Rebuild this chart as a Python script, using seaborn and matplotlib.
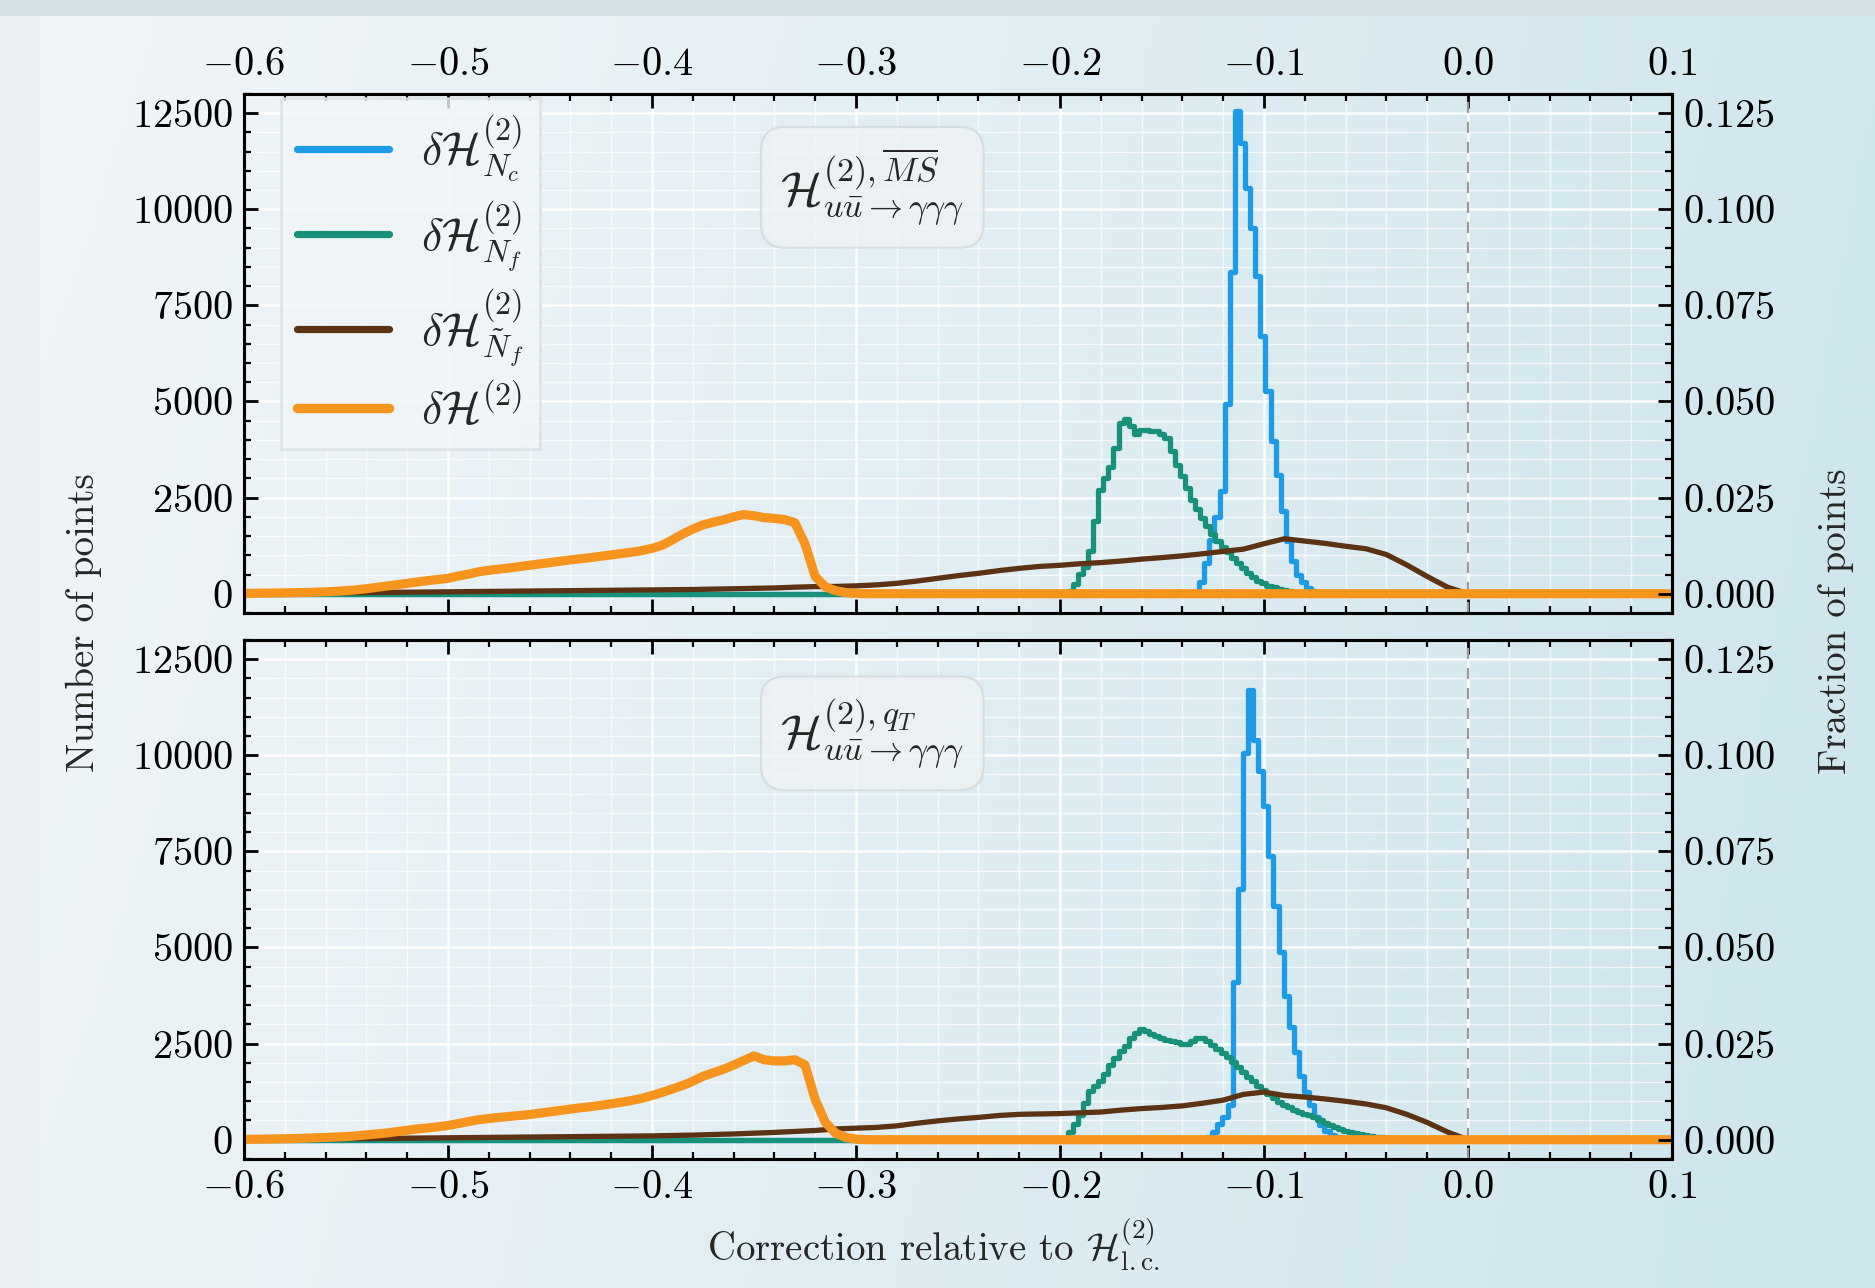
import numpy as np
import pandas as pd
import seaborn as sns
import matplotlib.pyplot as plt
from matplotlib.ticker import MultipleLocator, FuncFormatter
from matplotlib.patches import Rectangle

TOTAL_POINTS = 100000
X_MIN, X_MAX = -0.6, 0.1

labels = [r'$\delta\mathcal{H}^{(2)}_{N_c}$', r'$\delta\mathcal{H}^{(2)}_{N_f}$',
          r'$\delta\mathcal{H}^{(2)}_{\tilde{N}_f}$', r'$\delta\mathcal{H}^{(2)}$']
colors = ['#1e9be6', '#17917a', '#5c3212', '#f7941d']
panel_titles = [r'$\mathcal{H}^{(2),\overline{MS}}_{u\bar{u}\to\gamma\gamma\gamma}$',
                r'$\mathcal{H}^{(2),q_T}_{u\bar{u}\to\gamma\gamma\gamma}$']

# ---- MS-bar scheme (top panel) ----
ms_nc_start, ms_nc_step = -0.1330, 0.0025
ms_nc = [0, 300, 800, 1400, 2000, 2660, 4930, 8380, 12550, 11720, 10540, 9500, 8270,
         6710, 5270, 3970, 3100, 2140, 1360, 840, 500, 300, 150, 60, 0]

ms_nf_start, ms_nf_step = -0.2000, 0.0025
ms_nf = [0, 20, 80, 250, 520, 700, 1100, 1900, 2700, 3000, 3300, 3800, 4450, 4540, 4350,
         4150, 4250, 4250, 4230, 4220, 4150, 4050, 3700, 3350, 3050, 2750, 2450, 2200,
         1980, 1770, 1550, 1380, 1220, 1080, 930, 800, 660, 540, 430, 340, 270, 210, 170,
         130, 100, 75, 50, 30, 15, 0]

ms_nft_start, ms_nft_step = -0.60, 0.01
ms_nft = [0, 5, 10, 15, 20, 25, 30, 35, 40, 45, 50, 55, 60, 65, 70, 75, 80, 85, 90, 95,
          100, 105, 110, 120, 130, 140, 150, 170, 185, 190, 205, 230, 270, 330, 400, 470,
          530, 600, 660, 710, 740, 780, 810, 850, 900, 940, 985, 1040, 1100, 1160, 1300,
          1430, 1370, 1310, 1235, 1170, 1020, 750, 450, 170, 0]

ms_tot_start, ms_tot_step = -0.600, 0.005
ms_tot = [10, 12, 15, 18, 22, 27, 33, 40, 50, 62, 80, 100, 130, 165, 200, 235, 270, 305,
          340, 370, 400, 460, 510, 570, 610, 640, 670, 705, 740, 775, 810, 845, 880, 910,
          940, 975, 1010, 1045, 1080, 1120, 1180, 1260, 1400, 1550, 1680, 1790, 1860,
          1920, 2000, 2060, 2030, 1980, 1960, 1930, 1850, 1300, 450, 180, 80, 30, 10, 0]

# ---- q_T scheme (bottom panel) ----
qt_nc_start, qt_nc_step = -0.1291, 0.0025
qt_nc = [0, 80, 200, 400, 600, 900, 4100, 6510, 10060, 11700, 10400, 9580, 8670, 7370,
         6080, 4870, 3740, 2930, 2280, 1670, 1240, 890, 600, 380, 230, 130, 60, 0]

qt_nf_start, qt_nf_step = -0.2000, 0.0025
qt_nf = [0, 50, 200, 420, 650, 950, 1260, 1400, 1520, 1720, 1950, 2120, 2300, 2450, 2640,
         2780, 2880, 2820, 2760, 2700, 2640, 2600, 2570, 2530, 2500, 2490, 2560, 2640,
         2650, 2580, 2460, 2360, 2260, 2160, 2020, 1880, 1760, 1640, 1520, 1400, 1290,
         1180, 1080, 990, 900, 840, 780, 730, 680, 630, 580, 500, 440, 380, 320, 270, 230,
         195, 165, 140, 120, 100, 80, 65, 50, 40, 30, 20, 12, 5, 0]

qt_nft_start, qt_nft_step = -0.60, 0.01
qt_nft = [0, 5, 10, 15, 20, 25, 30, 35, 40, 45, 50, 55, 60, 65, 70, 75, 80, 85, 90, 95,
          100, 110, 120, 135, 150, 170, 190, 215, 240, 280, 300, 320, 360, 430, 490, 540,
          580, 630, 660, 670, 680, 700, 720, 770, 810, 840, 880, 950, 1030, 1180, 1240,
          1150, 1110, 1060, 1000, 930, 830, 660, 450, 200, 0]

qt_tot_start, qt_tot_step = -0.600, 0.005
qt_tot = [10, 12, 15, 20, 25, 32, 40, 50, 60, 70, 80, 100, 125, 150, 175, 210, 245, 280,
          305, 335, 370, 420, 470, 520, 550, 580, 605, 630, 655, 690, 725, 760, 795, 830,
          860, 895, 935, 975, 1020, 1075, 1150, 1230, 1320, 1410, 1520, 1650, 1740, 1830,
          1940, 2060, 2180, 2080, 2050, 2050, 2080, 1950, 1050, 450, 170, 60, 15, 0]


def histo_frame(start, step, counts):
    x = start + step * np.arange(len(counts))
    x = np.concatenate([[X_MIN], x, [X_MAX]])
    y = np.concatenate([[0], counts, [0]])
    return pd.DataFrame({'x': x, 'count': y})


sns.set_theme(style='ticks')
plt.rcParams.update({
    'font.family': 'serif',
    'font.serif': ['cmr10', 'DejaVu Serif'],
    'mathtext.fontset': 'cm',
    'axes.formatter.use_mathtext': True,
    'axes.unicode_minus': True,
    'axes.linewidth': 1.1,
    'axes.edgecolor': 'black',
    'xtick.direction': 'in',
    'ytick.direction': 'in',
    'xtick.major.size': 5, 'ytick.major.size': 5,
    'xtick.minor.size': 2.5, 'ytick.minor.size': 2.5,
    'xtick.major.width': 1.0, 'ytick.major.width': 1.0,
    'xtick.minor.width': 0.8, 'ytick.minor.width': 0.8,
    'xtick.color': 'black', 'ytick.color': 'black',
    'xtick.labelsize': 14.5, 'ytick.labelsize': 14.5,
    'xtick.major.pad': 4, 'ytick.major.pad': 4,
})

fig = plt.figure(figsize=(9.375, 6.44), dpi=200)

# slide-like gradient background
bg = fig.add_axes([0, 0, 1, 1], zorder=-10)
gx = np.linspace(0, 1, 400)
gy = np.linspace(0, 1, 300)
c0 = np.array([0.937, 0.957, 0.969])
c1 = np.array([0.815, 0.902, 0.929])
tx = np.clip(gx, 0, 1) ** 1.2
ty = gy[:, None] * 0.15
t = np.clip(tx[None, :] + ty - 0.05, 0, 1)
grad = c0[None, None, :] * (1 - t[..., None]) + c1[None, None, :] * t[..., None]
bg.imshow(grad, extent=[0, 1, 0, 1], aspect='auto', origin='upper')
bg.add_patch(Rectangle((0, 0), 0.02, 1, color='#e8eef1', zorder=2))
bg.add_patch(Rectangle((0, 0.989), 1, 0.011, color='#d6e1e6', zorder=2))
bg.set_axis_off()

ax_top = fig.add_axes([0.1301, 0.5241, 0.7616, 0.4030])
ax_bot = fig.add_axes([0.1301, 0.1002, 0.7616, 0.4030])

panels = [
    (ax_top, [(ms_nc_start, ms_nc_step, ms_nc), (ms_nf_start, ms_nf_step, ms_nf),
              (ms_nft_start, ms_nft_step, ms_nft), (ms_tot_start, ms_tot_step, ms_tot)]),
    (ax_bot, [(qt_nc_start, qt_nc_step, qt_nc), (qt_nf_start, qt_nf_step, qt_nf),
              (qt_nft_start, qt_nft_step, qt_nft), (qt_tot_start, qt_tot_step, qt_tot)]),
]
widths = [1.9, 1.9, 1.9, 3.3]
styles = ['steps-mid', 'steps-mid', 'default', 'default']

for i, (ax, series) in enumerate(panels):
    ax.set_facecolor('none')
    for j, (start, step, counts) in enumerate(series):
        df = histo_frame(start, step, counts)
        sns.lineplot(data=df, x='x', y='count', ax=ax, color=colors[j],
                     linewidth=widths[j], drawstyle=styles[j], estimator=None,
                     label=labels[j] if i == 0 else None, legend=False, zorder=3 + j)
    ax.axvline(0.0, color='#9a9a9a', ls=(0, (5, 4)), lw=0.8, zorder=2)
    ax.set_xlim(X_MIN, X_MAX)
    ax.set_ylim(-500, 13000)
    ax.xaxis.set_major_locator(MultipleLocator(0.1))
    ax.xaxis.set_minor_locator(MultipleLocator(0.02))
    ax.yaxis.set_major_locator(MultipleLocator(2500))
    ax.yaxis.set_minor_locator(MultipleLocator(500))
    ax.grid(which='major', color='white', lw=0.9, alpha=0.9, zorder=0)
    ax.grid(which='minor', color='white', lw=0.5, alpha=0.7, zorder=0)
    ax.set_axisbelow(True)
    ax.set_xlabel('')
    ax.set_ylabel('')
    ax.tick_params(axis='x', which='both', top=True, bottom=True)
    ax.tick_params(axis='y', which='both', left=True, right=False)
    if i == 0:
        ax.tick_params(axis='x', labeltop=True, labelbottom=False)
    ax.text(0.44, 0.82, panel_titles[i], transform=ax.transAxes, ha='center',
            va='center', fontsize=17.5, zorder=10,
            bbox=dict(boxstyle='round,pad=0.4,rounding_size=0.5', fc='#edf2f4',
                      ec='#d3dbde', lw=0.8, alpha=0.85))

    ax2 = ax.twinx()
    ax2.set_ylim(-500 / TOTAL_POINTS, 13000 / TOTAL_POINTS)
    ax2.yaxis.set_major_locator(MultipleLocator(0.025))
    ax2.yaxis.set_minor_locator(MultipleLocator(0.005))
    ax2.yaxis.set_major_formatter(FuncFormatter(lambda v, p: r'$\mathdefault{%.3f}$' % v))
    ax2.tick_params(axis='y', which='both', direction='in', right=True)
    ax2.grid(False)
    for sp in ax2.spines.values():
        sp.set_linewidth(1.1)

leg = ax_top.legend(loc='upper left', bbox_to_anchor=(0.026, 0.992), fontsize=16.5,
                    handlelength=2.0, labelspacing=0.3, borderpad=0.35,
                    handletextpad=0.7, borderaxespad=0.0, fancybox=False,
                    framealpha=0.8, facecolor='#f1f5f7', edgecolor='#d9dfe2')
for line in leg.get_lines():
    line.set_linewidth(2.6)
leg.get_lines()[3].set_linewidth(3.4)
leg.set_zorder(20)

fig.text(0.0445, 0.517, 'Number of points', rotation=90, ha='center', va='center',
         fontsize=14)
fig.text(0.979, 0.518, 'Fraction of points', rotation=90, ha='center', va='center',
         fontsize=14)
fig.text(0.498, 0.034, r'Correction relative to $\mathcal{H}^{(2)}_{\rm l.c.}$',
         ha='center', va='center', fontsize=14)

fig.savefig('out.png', dpi=200)
